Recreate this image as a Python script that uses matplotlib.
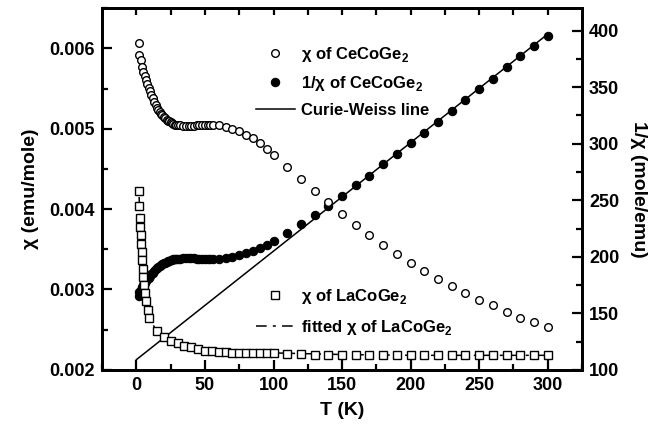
import matplotlib
matplotlib.use("Agg")
import matplotlib.pyplot as plt
from matplotlib.ticker import MultipleLocator

plt.rcParams['font.family'] = ['Liberation Sans', 'DejaVu Sans']
plt.rcParams['font.weight'] = 'bold'
plt.rcParams['mathtext.fontset'] = 'custom'
plt.rcParams['mathtext.bf'] = 'Liberation Sans:bold'
plt.rcParams['mathtext.rm'] = 'Liberation Sans:bold'

# CeCoGe2 susceptibility (emu/mole) and its inverse (mole/emu)
T_ce = [1.8, 2.2, 3, 4, 5, 6, 7, 8, 9, 10, 11, 12, 13, 14, 15, 16, 17, 18, 19, 20,
        21, 22, 23, 24, 25, 26, 27, 28, 29, 30, 32, 34, 36, 38, 40, 42, 44, 46, 48,
        50, 52, 54, 56, 60, 65, 70, 75, 80, 85, 90, 95, 100, 110, 120, 130, 140, 150,
        160, 170, 180, 190, 200, 210, 220, 230, 240, 250, 260, 270, 280, 290, 300]
chi_ce = [0.00606, 0.00592, 0.00585, 0.00577, 0.00571, 0.00565, 0.00560, 0.00555,
          0.00551, 0.00547, 0.00542, 0.00538, 0.00533, 0.00529, 0.00526, 0.00523,
          0.00521, 0.00518, 0.00517, 0.00515, 0.00513, 0.00511, 0.00510, 0.00509,
          0.00508, 0.00507, 0.00506, 0.00505, 0.00505, 0.00504, 0.00504, 0.00503,
          0.00503, 0.00503, 0.00503, 0.00503, 0.00504, 0.00504, 0.00504, 0.00505,
          0.00505, 0.00505, 0.00505, 0.00504, 0.00502, 0.00500, 0.00497, 0.00492,
          0.00488, 0.00482, 0.00475, 0.00467, 0.00452, 0.00437, 0.00422, 0.00409,
          0.00394, 0.00380, 0.00368, 0.00355, 0.00344, 0.00333, 0.00323, 0.00313,
          0.00304, 0.00295, 0.00287, 0.00280, 0.00272, 0.00265, 0.00259, 0.00253]
inv_ce = [165.0, 168.9, 170.9, 173.3, 175.1, 177.0, 178.6, 180.2, 181.5, 182.8,
          184.5, 185.9, 187.6, 189.0, 190.1, 191.2, 191.9, 193.1, 193.4, 194.2,
          194.9, 195.7, 196.1, 196.5, 196.9, 197.2, 197.6, 198.0, 198.0, 198.4,
          198.4, 198.8, 198.8, 198.8, 198.8, 198.8, 198.4, 198.4, 198.4, 198.0,
          198.0, 198.0, 198.0, 198.4, 199.2, 200.0, 201.2, 203.3, 204.9, 207.5,
          210.5, 214.1, 221.2, 228.8, 237.0, 244.5, 253.8, 263.2, 271.7, 281.7,
          290.7, 300.3, 309.6, 319.5, 328.9, 339.0, 348.4, 357.1, 367.6, 377.4,
          386.1, 395.3]

# Curie-Weiss fit of 1/chi
T_cw = [0, 300]
inv_cw = [109, 397]

# LaCoGe2 susceptibility (emu/mole)
T_la = [2.0, 2.1, 2.3, 2.6, 3.0, 3.4, 3.8, 4.2, 4.6, 5.0, 5.8, 6.6, 7.2, 8.3, 9.5,
        15, 20, 25, 30, 35, 40, 45, 50, 55, 60, 65, 70, 75, 80, 85, 90, 95, 100,
        110, 120, 130, 140, 150, 160, 170, 180, 190, 200, 210, 220, 230, 240, 250,
        260, 270, 280, 290, 300]
chi_la = [0.00422, 0.00404, 0.00389, 0.00378, 0.00368, 0.00357, 0.00347, 0.00337,
          0.00326, 0.00316, 0.00306, 0.00295, 0.00285, 0.00275, 0.00264, 0.00248,
          0.00241, 0.00236, 0.00233, 0.00230, 0.00228, 0.00226, 0.00224, 0.00223,
          0.00222, 0.00222, 0.00221, 0.00221, 0.00221, 0.00221, 0.00221, 0.00221,
          0.00221, 0.00220, 0.00220, 0.00219, 0.00219, 0.00219, 0.00219, 0.00219,
          0.00219, 0.00218, 0.00218, 0.00218, 0.00218, 0.00218, 0.00218, 0.00218,
          0.00218, 0.00218, 0.00218, 0.00218, 0.00218]

# fitted LaCoGe2 curve
T_fit = [2.0, 2.5, 3, 4, 5, 6, 8, 10, 15, 20, 30, 40, 50, 70, 100, 150, 200, 250, 300]
chi_fit = [0.00415, 0.00385, 0.00366, 0.00336, 0.00316, 0.00300, 0.00278, 0.00263,
           0.00247, 0.00240, 0.00233, 0.00228, 0.00225, 0.00222, 0.00221, 0.00219,
           0.00218, 0.00218, 0.00218]

fig = plt.figure(figsize=(6.72, 4.28), dpi=100)
ax = fig.add_axes([0.152, 0.136, 0.714, 0.845])
ax2 = ax.twinx()

l_inv, = ax2.plot(T_ce, inv_ce, 'o', ms=6, mfc='black', mec='black', mew=0.8)
l_cw, = ax2.plot(T_cw, inv_cw, '-', color='black', lw=1.1)

l_chi, = ax.plot(T_ce, chi_ce, 'o', ms=5.5, mfc='white', mec='black', mew=1.0)
l_fit, = ax.plot(T_fit, chi_fit, color='black', lw=1.1, dashes=[7, 4, 2, 4])
l_la, = ax.plot(T_la, chi_la, 's', ms=5.3, mfc='white', mec='black', mew=1.0)

# keep the left-axis markers above the filled circles
ax.set_zorder(ax2.get_zorder() + 1)
ax.patch.set_visible(False)

ax.set_xlim(-25, 325)
ax.set_ylim(0.002, 0.0065)
ax2.set_ylim(100, 420)

ax.xaxis.set_minor_locator(MultipleLocator(25))
ax.yaxis.set_minor_locator(MultipleLocator(0.0005))
ax2.yaxis.set_major_locator(MultipleLocator(50))
ax2.yaxis.set_minor_locator(MultipleLocator(25))
ax.set_xticks([0, 50, 100, 150, 200, 250, 300])
ax.set_yticks([0.002, 0.003, 0.004, 0.005, 0.006])
ax.set_yticklabels(['0.002', '0.003', '0.004', '0.005', '0.006'])

for a in (ax, ax2):
    a.tick_params(which='major', direction='in', length=7, width=1.6, labelsize=13, pad=5)
    a.tick_params(which='minor', direction='in', length=4, width=1.6)
    for s in a.spines.values():
        s.set_linewidth(2)

top = ax.secondary_xaxis('top')
top.set_xticks([0, 25, 50, 75, 100, 125, 150, 175, 200, 225, 250, 275, 300])
top.tick_params(direction='in', length=5, width=1.6, labeltop=False)
top.xaxis.set_minor_locator(plt.NullLocator())

ax.set_xlabel('T (K)', fontsize=14, fontweight='bold', labelpad=6)
ax.set_ylabel('χ (emu/mole)', fontsize=14, fontweight='bold', labelpad=8)
ax2.set_ylabel('1/χ (mole/emu)', fontsize=14, fontweight='bold', rotation=270, labelpad=20)

leg1 = ax.legend([l_chi, l_inv, l_cw],
                 [r'χ of CeCoGe$_\mathbf{2}$', r'1/χ of CeCoGe$_\mathbf{2}$', 'Curie-Weiss line'],
                 loc='upper left', bbox_to_anchor=(0.29, 0.94), frameon=False,
                 fontsize=12, handlelength=2.3, labelspacing=0.6, handletextpad=0.4)
ax.add_artist(leg1)
ax.legend([l_la, l_fit],
          [r'χ of LaCoGe$_\mathbf{2}$', r'fitted χ of LaCoGe$_\mathbf{2}$'],
          loc='upper left', bbox_to_anchor=(0.29, 0.27), frameon=False,
          fontsize=12, handlelength=2.3, labelspacing=0.7, handletextpad=0.4)

fig.savefig('out.png', dpi=100)
